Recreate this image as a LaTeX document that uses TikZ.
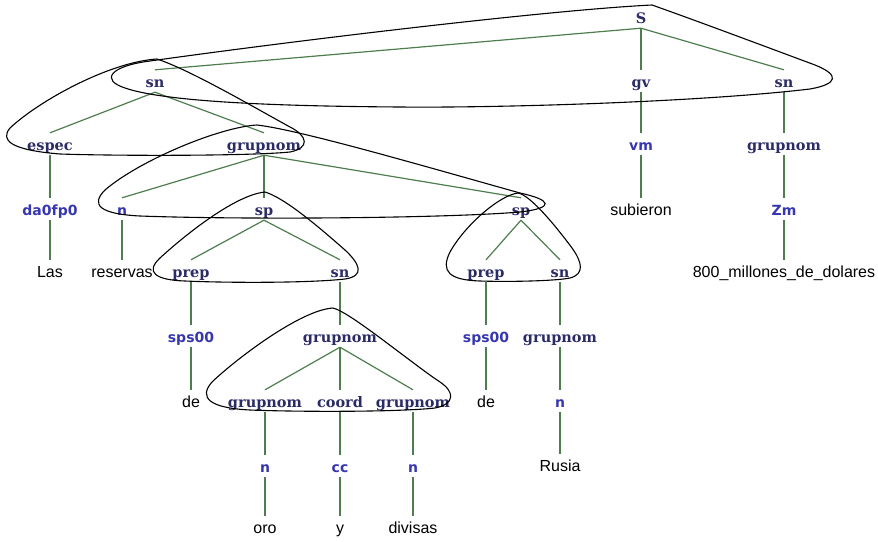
\documentclass[tikz,border=0pt]{standalone}
\usepackage{fontspec}
\newfontfamily\ntfont{DejaVu Serif}
\newfontfamily\ptfont{DejaVu Sans}
\newfontfamily\wdfont{Liberation Sans}
\definecolor{ntcol}{HTML}{2B2B66}
\definecolor{ptcol}{HTML}{3636B0}
\definecolor{edgecol}{HTML}{4E7E4E}
\begin{document}
\begin{tikzpicture}[x=1pt,y=-1pt,
  lab/.style={anchor=base, inner sep=0pt, text height=17pt, text depth=5pt},
  nt/.style={lab, text=ntcol, font=\ntfont\bfseries\fontsize{14.5}{16}\selectfont},
  pt/.style={lab, text=ptcol, font=\ptfont\bfseries\fontsize{14}{16}\selectfont},
  wd/.style={lab, text=black, font=\wdfont\fontsize{16}{18}\selectfont},
  edge/.style={draw=edgecol, line width=1.2pt},
  loopline/.style={draw=black, line width=1.1pt}]
\useasboundingbox (0,0) rectangle (878,541);
% nodes
\node[nt] (S) at (641,23) {S};
\node[nt] (snL) at (155,87) {sn};
\node[nt] (gv) at (641,87) {gv};
\node[nt] (snR) at (784,87) {sn};
\node[nt] (espec) at (50,150) {espec};
\node[nt] (gn1) at (264,150) {grupnom};
\node[pt] (vm) at (641,150) {vm};
\node[nt] (gn6) at (784,150) {grupnom};
\node[pt] (da) at (50,215) {da0fp0};
\node[pt] (n1) at (122,215) {n};
\node[nt] (sp1) at (264,215) {sp};
\node[nt] (sp2) at (521,215) {sp};
\node[wd] (subieron) at (641,215) {subieron};
\node[pt] (Zm) at (784,215) {Zm};
\node[wd] (Las) at (50,277) {Las};
\node[wd] (reservas) at (122,277) {reservas};
\node[nt] (prep1) at (191,277) {prep};
\node[nt] (sn2) at (340,277) {sn};
\node[nt] (prep2) at (486,277) {prep};
\node[nt] (sn3) at (560,277) {sn};
\node[wd] (mill) at (784,277) {800\_millones\_de\_dolares};
\node[pt] (sps1) at (191,342) {sps00};
\node[nt] (gn2) at (340,342) {grupnom};
\node[pt] (sps2) at (486,342) {sps00};
\node[nt] (gn5) at (560,342) {grupnom};
\node[wd] (de1) at (191,407) {de};
\node[nt] (gn3) at (265,407) {grupnom};
\node[nt] (coord) at (340,407) {coord};
\node[nt] (gn4) at (413,407) {grupnom};
\node[wd] (de2) at (486,407) {de};
\node[pt] (n5) at (560,407) {n};
\node[pt] (n3) at (265,472) {n};
\node[pt] (cc) at (340,472) {cc};
\node[pt] (n4) at (413,472) {n};
\node[wd] (Rusia) at (560,471) {Rusia};
\node[wd] (oro) at (265,533) {oro};
\node[wd] (y) at (340,533) {y};
\node[wd] (divisas) at (413,533) {divisas};
% edges
\foreach \a/\b in {S/snL,S/gv,S/snR,snL/espec,snL/gn1,espec/da,da/Las,
  gn1/n1,gn1/sp1,gn1/sp2,n1/reservas,sp1/prep1,sp1/sn2,prep1/sps1,sps1/de1,
  sn2/gn2,gn2/gn3,gn2/coord,gn2/gn4,gn3/n3,n3/oro,coord/cc,cc/y,gn4/n4,n4/divisas,
  sp2/prep2,sp2/sn3,prep2/sps2,sps2/de2,sn3/gn5,gn5/n5,n5/Rusia,
  gv/vm,vm/subieron,snR/gn6,gn6/Zm,Zm/mill}
  \draw[edge] (\a.south) -- (\b.north);
% loops
\draw[loopline] (652,5) .. controls (700,22) and (780,52) .. (815,65)
  .. controls (840,75) and (838,84) .. (810,89)
  .. controls (700,102) and (500,108) .. (400,107)
  .. controls (250,106) and (160,100) .. (125,88)
  .. controls (100,80) and (110,66) .. (150,61)
  .. controls (300,40) and (550,10) .. (652,5) -- cycle;
\draw[loopline] (157,59) .. controls (110,62) and (40,100) .. (10,128)
  .. controls (0,140) and (10,150) .. (60,154)
  .. controls (120,156) and (250,156) .. (290,152)
  .. controls (310,148) and (308,136) .. (290,127)
  .. controls (250,105) and (190,70) .. (157,59) -- cycle;
\draw[loopline] (257,125) .. controls (220,127) and (140,160) .. (105,190)
  .. controls (90,205) and (100,214) .. (140,216)
  .. controls (250,220) and (450,218) .. (520,212)
  .. controls (555,208) and (552,200) .. (520,193)
  .. controls (420,165) and (300,130) .. (257,125) -- cycle;
\draw[loopline] (265,192) .. controls (235,195) and (185,235) .. (160,258)
  .. controls (145,272) and (155,280) .. (185,281)
  .. controls (230,283) and (310,283) .. (345,279)
  .. controls (365,276) and (360,264) .. (345,250)
  .. controls (320,228) and (285,198) .. (265,192) -- cycle;
\draw[loopline] (518,193) .. controls (500,195) and (465,225) .. (450,252)
  .. controls (440,272) and (450,280) .. (480,281)
  .. controls (510,282) and (555,281) .. (570,278)
  .. controls (585,274) and (582,262) .. (572,248)
  .. controls (555,225) and (530,195) .. (518,193) -- cycle;
\draw[loopline] (333,308) .. controls (300,310) and (235,360) .. (212,382)
  .. controls (198,398) and (210,408) .. (250,410)
  .. controls (300,412) and (400,412) .. (435,408)
  .. controls (455,404) and (455,392) .. (440,382)
  .. controls (410,362) and (350,312) .. (333,308) -- cycle;
\end{tikzpicture}
\end{document}
